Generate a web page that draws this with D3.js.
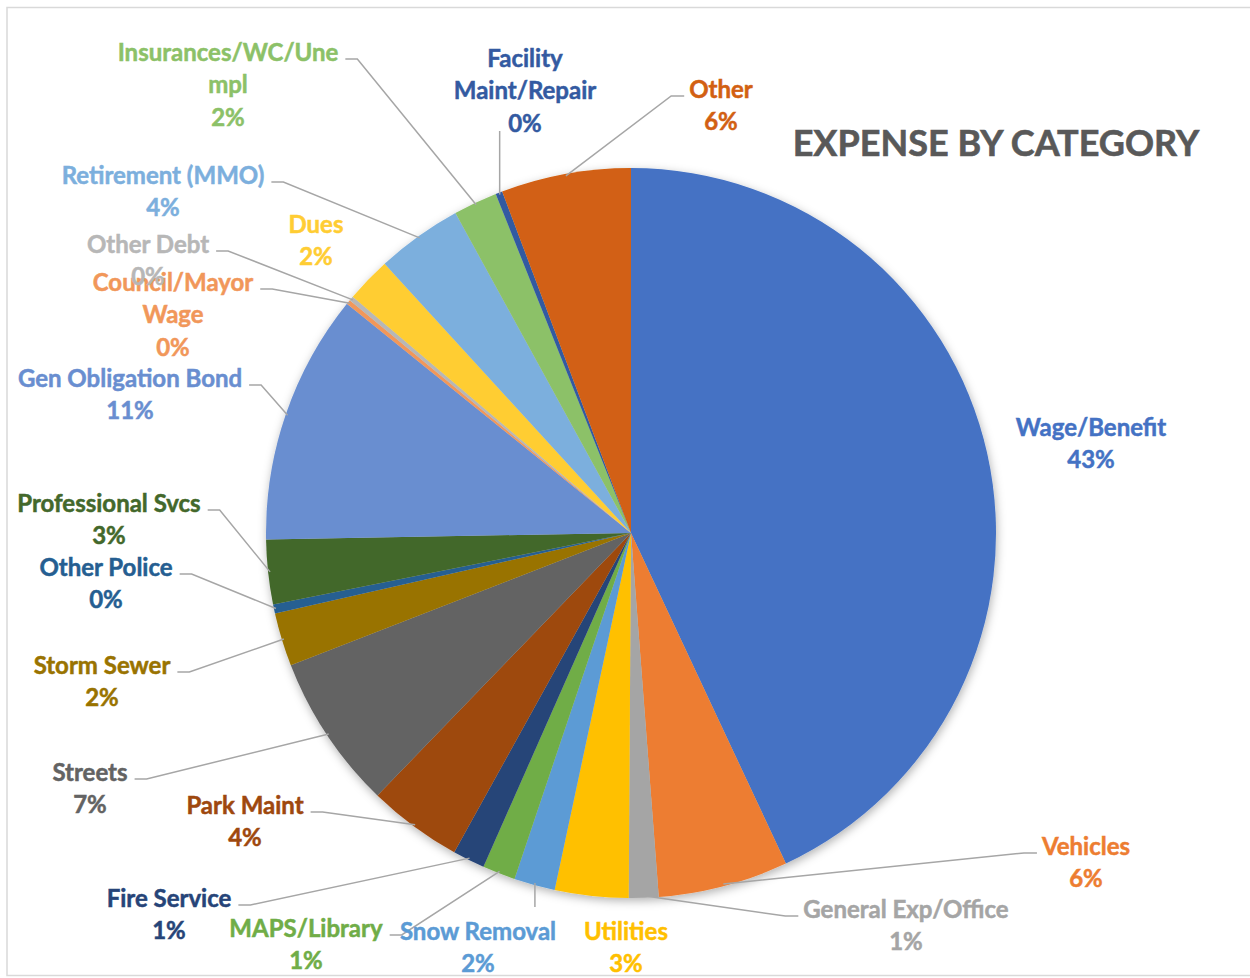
<!DOCTYPE html>
<html>
<head>
<meta charset="utf-8">
<script src="https://cdn.jsdelivr.net/npm/d3@7"></script>
<style>
  body { margin: 0; background: #fff; }
  svg text { font-family: Lato, "Open Sans", sans-serif; font-weight: 700; }
</style>
</head>
<body>
<svg id="chart" width="1250" height="978"></svg>
<script>
// expense categories, clockwise from 12 o'clock
const categories = [
  "Wage/Benefit", "Vehicles", "General Exp/Office", "Utilities", "Snow Removal",
  "MAPS/Library", "Fire Service", "Park Maint", "Streets", "Storm Sewer",
  "Other Police", "Professional Svcs", "Gen Obligation Bond", "Council/Mayor Wage",
  "Other Debt", "Dues", "Retirement (MMO)", "Insurances/WC/Unempl",
  "Facility Maint/Repair", "Other"
];
// share of total expense
const values = [
  42.94, 5.75, 1.31, 3.25, 1.81,
  1.45, 1.42, 4.17, 6.86, 2.36,
  0.4, 2.85, 11.06, 0.2,
  0.2, 2.0, 3.8, 1.94,
  0.3, 5.73
];
const palette = [
  "#4472C4", "#ED7D31", "#A5A5A5", "#FFC000", "#5B9BD5",
  "#70AD47", "#264478", "#9E480E", "#636363", "#997300",
  "#255E91", "#43682B", "#698ED0", "#F1975A", "#B7B7B7",
  "#FFCD33", "#7CAFDD", "#8CC168", "#335AA1", "#D26012"
];

// how excel wrapped a few of the long labels
const wrapped = {
  "Insurances/WC/Unempl": ["Insurances/WC/Une", "mpl"],
  "Facility Maint/Repair": ["Facility", "Maint/Repair"],
  "Council/Mayor Wage": ["Council/Mayor", "Wage"]
};

// label placement: centre x, centre of first line y
const labelAt = [
  [1091, 427], [1086, 846], [906, 909], [626, 931], [478, 931],
  [306, 928], [169, 898], [245, 805], [90, 772], [102, 665],
  [106, 567], [109, 503], [130, 378], [173, 282], [148, 244],
  [316, 224], [163, 175], [228, 52], [525, 58], [721, 89]
];
const noLeader = ["Wage/Benefit", "Utilities", "Dues"];

const cx = 631, cy = 533, r = 365, lineH = 32.5;

const svg = d3.select("#chart");

// frame
svg.append("rect")
  .attr("x", 7).attr("y", 7.5)
  .attr("width", 1260).attr("height", 968)
  .attr("fill", "none")
  .attr("stroke", "#D9D9D9")
  .attr("stroke-width", 1.5);

const defs = svg.append("defs");
defs.append("filter")
  .attr("id", "shadow")
  .attr("x", "-20%").attr("y", "-20%")
  .attr("width", "140%").attr("height", "140%")
  .append("feDropShadow")
  .attr("dx", 1).attr("dy", 3)
  .attr("stdDeviation", 5)
  .attr("flood-color", "#000")
  .attr("flood-opacity", 0.3);

const total = d3.sum(values);
const data = categories.map((c, i) => ({ name: c, value: values[i], i: i }));

const pie = d3.pie().sort(null).value(d => d.value);
const arcs = pie(data);
const arc = d3.arc().innerRadius(0).outerRadius(r);

const g = svg.append("g").attr("transform", "translate(" + cx + "," + cy + ")");

g.append("g")
  .attr("filter", "url(#shadow)")
  .selectAll("path")
  .data(arcs)
  .enter()
  .append("path")
  .attr("d", arc)
  .attr("fill", d => palette[d.data.i]);

// labels
const leaders = svg.append("g");
const labels = svg.append("g");

arcs.forEach(function (a) {
  const d = a.data;
  const lines = (wrapped[d.name] || [d.name]).concat([Math.round(d.value / total * 100) + "%"]);
  const [lx, ly] = labelAt[d.i];

  const t = labels.append("text")
    .attr("text-anchor", "middle")
    .attr("font-size", 24)
    .attr("fill", palette[d.i])
    .attr("stroke", palette[d.i])
    .attr("stroke-width", 0.5);
  lines.forEach(function (s, k) {
    t.append("tspan")
      .attr("x", lx)
      .attr("y", ly + k * lineH)
      .attr("dy", "0.36em")
      .text(s);
  });

  if (noLeader.includes(d.name)) return;

  // box around the label text
  let w = 0;
  t.selectAll("tspan").each(function () { w = Math.max(w, this.getComputedTextLength()); });
  const left = lx - w / 2, right = lx + w / 2;
  const top = ly - 24, bottom = ly + (lines.length - 1) * lineH + 8;

  const mid = (a.startAngle + a.endAngle) / 2;
  const px = cx + (r - 2) * Math.sin(mid);
  const py = cy - (r - 2) * Math.cos(mid);

  let pts;
  if (px >= left && px <= right) {
    // straight to top or bottom of box
    pts = [[px, py], [px, py > ly ? bottom : top]];
  } else if (px > right) {
    const ty = ly + 7;
    pts = [[px, py], [right + 19, ty], [right + 7, ty]];
  } else {
    const ty = ly + 7;
    pts = [[px, py], [left - 18, ty], [left - 5, ty]];
  }

  leaders.append("path")
    .attr("d", d3.line()(pts))
    .attr("fill", "none")
    .attr("stroke", "#A6A6A6")
    .attr("stroke-width", 1.5);
});

// title
svg.append("text")
  .attr("x", 996)
  .attr("y", 143)
  .attr("dy", "0.36em")
  .attr("text-anchor", "middle")
  .attr("font-size", 36)
  .attr("fill", "#595959")
  .attr("stroke", "#595959")
  .attr("stroke-width", 0.6)
  .text("EXPENSE BY CATEGORY");
</script>
</body>
</html>
